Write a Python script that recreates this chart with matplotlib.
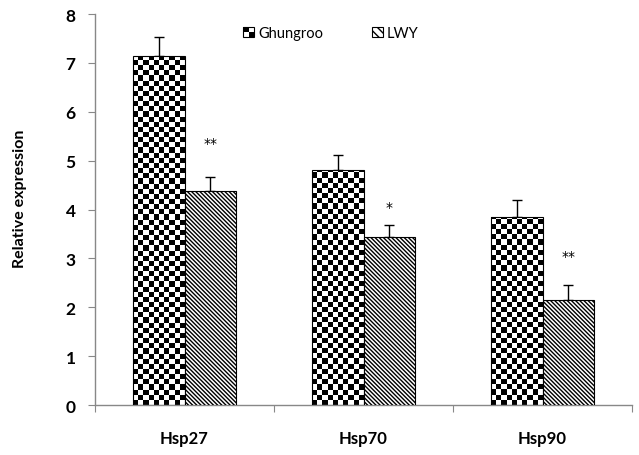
import numpy as np
import matplotlib
matplotlib.use("Agg")
import matplotlib.pyplot as plt
from matplotlib.patches import Rectangle, Patch
from matplotlib.legend_handler import HandlerBase

plt.rcParams['font.family'] = ['Lato', 'DejaVu Sans']
plt.rcParams['hatch.linewidth'] = 1.0

# data
genes = ['Hsp27', 'Hsp70', 'Hsp90']
ghungroo = [7.14, 4.81, 3.85]
ghungroo_err = [0.39, 0.30, 0.34]
lwy = [4.38, 3.43, 2.15]
lwy_err = [0.28, 0.25, 0.31]
lwy_sig = ['**', '*', '**']
sig_y = [5.36, 4.05, 3.05]


class CheckerHandler(HandlerBase):
    # small 2x2 checker square for the legend
    def create_artists(self, legend, orig_handle, xdescent, ydescent,
                       width, height, fontsize, trans):
        s = min(width, height)
        x0, y0 = -xdescent, -ydescent
        arts = [Rectangle((x0, y0), s, s, facecolor='white', edgecolor='black',
                          lw=0.8, transform=trans)]
        for i in range(2):
            for j in range(2):
                if (i + j) % 2 == 1:
                    arts.append(Rectangle((x0 + i * s / 2, y0 + j * s / 2), s / 2, s / 2,
                                          facecolor='black', lw=0, transform=trans))
        return arts


fig = plt.figure(figsize=(6.39, 4.56), dpi=100)
ax = fig.add_axes([0.1487, 0.1096, 0.8404, 0.8575])

x = np.arange(len(genes))
w = 0.288
ymax = 8

g_bars = ax.bar(x - w / 2, ghungroo, w, facecolor='white', edgecolor='none', lw=0, zorder=2)
ax.bar(x - w / 2, ghungroo, w, facecolor='none', edgecolor='black', lw=0.8, zorder=3)
l_bars = ax.bar(x + w / 2, lwy, w, facecolor='white', edgecolor='black',
                hatch='\\\\\\\\\\\\\\\\', lw=0.8, zorder=3)
ax.errorbar(x - w / 2, ghungroo, yerr=[np.zeros(3), ghungroo_err], fmt='none',
            ecolor='black', elinewidth=1, capsize=3.5, capthick=1, zorder=1)
ax.errorbar(x + w / 2, lwy, yerr=[np.zeros(3), lwy_err], fmt='none',
            ecolor='black', elinewidth=1, capsize=3.5, capthick=1, zorder=1)

# checkerboard fill for Ghungroo bars
ax_w_px = 0.8404 * 639
ax_h_px = 0.8575 * 456
sq = 5.15
sx = sq / (ax_w_px / 3)
sy = sq / (ax_h_px / ymax)
for b in g_bars:
    bx, by = b.get_x(), b.get_y()
    nx = int(np.ceil(b.get_width() / sx))
    ny = int(np.ceil(b.get_height() / sy))
    board = np.indices((ny, nx)).sum(axis=0) % 2
    im = ax.imshow(board, cmap='gray', origin='lower', interpolation='nearest',
                   extent=(bx, bx + nx * sx, by, by + ny * sy), aspect='auto', zorder=2.5)
    im.set_clip_path(b)

for xi, s, sy_ in zip(x, lwy_sig, sig_y):
    ax.text(xi + w / 2, sy_, s, ha='center', va='center', fontsize=10, color='black',
            family='DejaVu Sans')

ax.set_xlim(-0.5, 2.5)
ax.set_ylim(0, ymax)
ax.set_yticks(range(0, 9))
ax.set_xticks([-0.5, 0.5, 1.5, 2.5])
ax.set_xticklabels([])
ax.set_xticks(x, minor=True)
ax.set_xticklabels(genes, minor=True, fontsize=12, fontweight='bold')
ax.tick_params(axis='x', which='minor', length=0, pad=18)
ax.tick_params(axis='x', which='major', direction='out', length=5, color='#888888')
ax.tick_params(axis='y', direction='out', length=5, color='#888888', pad=9,
               labelsize=12.5)
for lab in ax.get_yticklabels():
    lab.set_fontweight('bold')

for sp in ['top', 'right']:
    ax.spines[sp].set_visible(False)
for sp in ['left', 'bottom']:
    ax.spines[sp].set_color('#888888')
    ax.spines[sp].set_linewidth(1)

fig.text(0.032, 0.565, 'Relative expression', rotation=90, ha='center', va='center',
         fontsize=11.5, fontweight='bold')

h1 = Patch(facecolor='white', edgecolor='black')
h2 = Patch(facecolor='white', edgecolor='black', hatch='\\\\\\\\', lw=0.8)
fig.legend([h1, h2], ['Ghungroo', 'LWY'], ncol=2, frameon=False,
           loc='center', bbox_to_anchor=(0.518, 0.925), fontsize=10.5,
           handlelength=0.75, handleheight=0.75, handletextpad=0.3,
           columnspacing=3.3, handler_map={h1: CheckerHandler()})

fig.savefig('out.png', dpi=100)
